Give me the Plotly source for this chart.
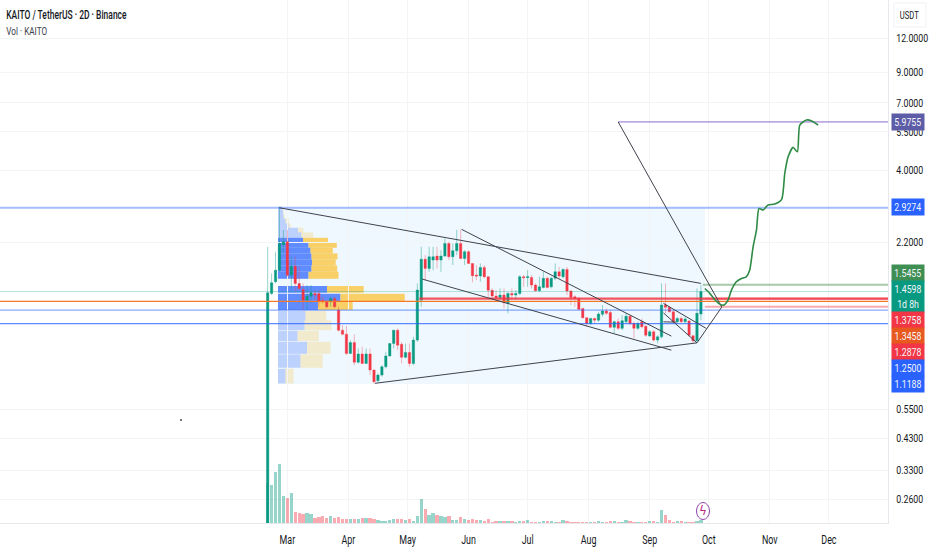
import pandas as pd
import plotly.graph_objects as go

# ---- data ----
START = "2025-02-19"
opens = [0.19,1.437,1.583,1.744,2.15,2.208,1.673,1.80,1.561,1.485,1.359,1.405,1.437,1.437,1.359,1.341,1.341,1.378,1.251,1.059,1.024,0.873,0.955,0.811,0.869,0.803,0.869,0.76,0.695,0.729,0.781,0.855,0.948,1.059,0.942,0.845,0.88,0.803,0.975,1.359,1.91,1.769,1.896,1.96,1.896,1.96,2.177,1.949,2.05,
2.178,1.922,2.032,1.844,1.674,1.66,1.784,1.651,1.477,1.407,1.387,1.417,1.322,1.437,1.417,1.437,1.651,1.638,1.642,1.54,1.47,1.511,1.629,1.519,1.629,1.721,1.651,1.755,1.466,1.398,1.379,1.269,1.175,1.12,1.167,1.151,1.208,1.241,1.226,1.084,1.136,1.075,1.136,1.189,1.12,1.075,1.136,1.095,1.009,1.045,0.975,1.002,1.305,1.28,1.234,1.136,1.167,1.136,1.143,1.011,0.97,1.211]
highs = [2.118,1.697,2.031,2.953,2.433,2.433,1.949,1.949,1.793,1.561,1.54,1.54,1.478,1.478,1.398,1.359,1.398,1.398,1.286,1.104,1.097,0.975,1.024,0.91,0.922,0.91,0.91,0.764,0.739,0.792,0.885,0.95,1.062,1.074,0.961,0.948,0.948,1.002,1.561,2.118,1.976,2.118,2.118,2.118,2.06,2.27,2.208,2.177,2.433,
2.446,2.06,2.06,1.85,1.819,1.844,1.819,1.66,1.498,1.477,1.498,1.498,1.457,1.498,1.477,1.674,1.674,1.745,1.674,1.562,1.651,1.721,1.651,1.651,1.844,1.79,1.77,1.79,1.477,1.417,1.398,1.27,1.178,1.175,1.175,1.234,1.305,1.269,1.252,1.146,1.167,1.201,1.218,1.201,1.136,1.136,1.167,1.104,1.06,1.06,1.016,1.562,1.562,1.295,1.252,1.184,1.184,1.184,1.151,1.016,1.498,1.54]
lows = [0.19,1.417,1.561,1.72,2.004,1.65,1.478,1.457,1.478,1.251,1.251,1.322,1.359,1.286,1.322,1.268,1.286,1.268,1.045,1.016,0.861,0.869,0.792,0.803,0.80,0.80,0.729,0.68,0.69,0.719,0.77,0.849,0.91,0.897,0.803,0.837,0.781,0.792,0.961,1.286,1.605,1.72,1.744,1.769,1.72,1.949,1.896,1.82,1.976,
1.91,1.819,1.835,1.575,1.606,1.583,1.629,1.398,1.379,1.36,1.341,1.269,1.218,1.36,1.36,1.417,1.519,1.519,1.498,1.457,1.457,1.498,1.498,1.498,1.606,1.629,1.629,1.417,1.305,1.287,1.252,1.167,1.089,1.104,1.12,1.136,1.184,1.201,1.075,1.031,1.06,1.06,1.12,1.104,0.989,1.06,1.075,1.002,1.002,0.962,0.948,0.989,1.218,1.226,1.12,1.12,1.126,1.12,1.002,0.948,0.962,1.151]
closes = [1.445,1.57,1.744,2.177,2.208,1.673,1.80,1.561,1.498,1.359,1.405,1.445,1.417,1.341,1.341,1.286,1.378,1.286,1.059,1.024,0.873,0.955,0.811,0.869,0.803,0.869,0.76,0.69,0.729,0.781,0.855,0.948,1.059,0.935,0.845,0.88,0.803,0.975,1.478,1.91,1.769,1.949,1.949,1.896,1.96,2.177,1.949,2.05,2.177,
1.922,2.032,1.844,1.665,1.66,1.784,1.651,1.477,1.407,1.387,1.417,1.33,1.437,1.417,1.437,1.651,1.638,1.651,1.54,1.47,1.519,1.629,1.511,1.629,1.721,1.66,1.755,1.466,1.39,1.379,1.259,1.175,1.12,1.167,1.151,1.211,1.241,1.218,1.084,1.136,1.075,1.146,1.189,1.12,1.075,1.12,1.089,1.016,1.045,0.975,1.002,1.305,1.28,1.234,1.136,1.167,1.136,1.161,1.016,0.97,1.218,1.4598]
volumes = [40,38,51,59,27,25,30,11.5,10,9.5,10.5,9,5,6,7,5,7,5,6,4,4.5,4,4,4,5,5.5,5,4.5,3,2,2.5,3,4,4,4,3,4,2,7,24,14,8.5,10,8.5,7,6.5,7,3,3.5,
6,4,3,4,3.5,3,2.5,4,1.5,2.5,2,2,2,2,1.5,2,2,3.5,0.8,0.8,1,2,2,2.5,1.5,1.5,3,2,1.5,1.2,1,1,1,1,0.6,2,1.5,1.5,2,1.8,1,0.8,3,2,1.5,1,1,0.8,2,2,1.5,13,8.5,3,1.5,2,2,1.5,1.5,1.5,2,3]

# volume profile rows
profile_low  = [2.872,2.779,2.680,2.571,2.480,2.386,2.282,2.196,2.100,2.004,1.906,1.813,1.720,1.623,1.445,1.348,1.251,1.148,1.059,0.967,0.870,0.775,0.680]
profile_high = [2.953,2.872,2.779,2.680,2.571,2.480,2.386,2.282,2.196,2.100,2.004,1.906,1.813,1.720,1.527,1.433,1.341,1.243,1.148,1.053,0.961,0.866,0.768]
profile_buy  = [4,5,5.5,7.5,10.5,20,23.5,25,30.5,32.5,33.5,34,33.5,30.5,49,62.5,40,27.5,26.5,19.5,29,22.5,7.5]
profile_sell = [1,0.7,1,3.3,2.3,5.3,11.7,25,28.3,22.3,26,23.7,25.7,30,36.7,64.3,34.7,20.7,27,21.3,23.7,22.3,8]
profile_dark = [0,0,0,0,0,0,0,1,1,1,1,1,1,1,1,1,1,0,0,0,0,0,0]
profile_start = "2025-02-24 06:00"
range_box_x = ["2025-02-24 06:00", "2025-09-29"]
range_box_y = [0.677, 2.9274]

level_price = [5.9755,2.9274,1.5455,1.4598,1.3758,1.3758,1.3458,1.2878,1.25,1.1188]
level_from  = ["2025-08-16","2024-10-01","2025-09-28","2024-10-01","2025-05-07","2025-09-29","2024-10-01","2025-09-29","2024-10-01","2024-10-01"]
level_color = ["rgba(103,58,183,0.75)","rgba(41,98,255,0.42)","rgba(46,125,50,0.42)","rgba(8,153,129,0.28)","rgba(242,54,69,0.85)","rgba(242,54,69,0.42)","rgba(245,120,40,1)","rgba(242,54,69,0.42)","rgba(41,98,255,0.55)","rgba(41,98,255,0.75)"]
level_width = [1,2,2,1,2.2,2,1.3,2,1.2,1.2]

trend_x = [["2025-02-25","2025-09-27"],["2025-05-28 12:00","2025-09-12"],["2025-05-08 12:00","2025-09-12"],
           ["2025-04-14 12:00","2025-09-25"],["2025-08-16","2025-10-07 14:00","2025-09-25"],
           ["2025-09-08","2025-09-29 18:00"],["2025-09-08","2025-09-25"],["2025-09-08","2025-09-14 14:00"]]
trend_y = [[2.9274,1.562],[2.447,1.008],[1.619,0.897],[0.681,0.953],[5.9755,1.283,0.953],[1.323,1.074],[1.222,0.953],[1.135,1.132]]

proj_x = ["2025-09-29","2025-10-01 12:00","2025-10-04","2025-10-06 14:00","2025-10-08 14:00","2025-10-10 18:00","2025-10-12 12:00","2025-10-15","2025-10-17 14:00","2025-10-20","2025-10-21 18:00","2025-10-23 12:00","2025-10-25 05:00","2025-10-26 12:00","2025-10-28 14:00","2025-10-31","2025-11-03 12:00","2025-11-07","2025-11-08 14:00","2025-11-10 07:00","2025-11-12 18:00","2025-11-15","2025-11-16 05:00","2025-11-19 14:00","2025-11-22","2025-11-25 12:00"]
proj_y = [1.497,1.438,1.367,1.315,1.304,1.359,1.477,1.583,1.627,1.650,1.744,2.117,2.432,2.912,2.873,2.994,3.019,3.139,3.896,4.473,4.836,4.663,5.824,6.07,6.04,5.824]

price_ticks = [12,9,7,5.5,4,2.2,0.55,0.43,0.33,0.26]
price_tick_text = ["12.0000","9.0000","7.0000","5.5000","4.0000","2.2000","0.5500","0.4300","0.3300","0.2600"]
month_ticks = ["2025-03-01","2025-04-01","2025-05-01","2025-06-01","2025-07-01","2025-08-01","2025-09-01","2025-10-01","2025-11-01","2025-12-01"]
month_text = ["Mar","Apr","May","Jun","Jul","Aug","Sep","Oct","Nov","Dec"]

badge_text = ["5.9755","2.9274","1.5455","1.4598<br>1d 8h","1.3758","1.3458","1.2878","1.2500","1.1188"]
badge_y = [122,207,273,296.5,320,336,352,368,384]
badge_h = [16,16,16,31,16,16,16,16,16]
badge_bg = ["#5d5ca6","#2962ff","#3f8f55","#089981","#f23645","#e8591f","#f23645","#2962ff","#2962ff"]

# ---- build ----
GREEN, RED = "#089981", "#f23645"
W, H, R, B = 932, 550, 44, 27
PW, PH = W - R, H - B
DAY = 86400000
dates = pd.date_range(START, periods=len(closes), freq="2D")
up = [c >= o for o, c in zip(opens, closes)]
PX_PER_DAY = 1.97
yr = [-0.671, 1.2164]

fig = go.Figure()
fig.add_trace(go.Bar(x=dates, y=volumes, width=2*DAY*0.84, yaxis="y", hoverinfo="skip",
    marker=dict(color=["rgba(8,153,129,0.42)" if u else "rgba(242,54,69,0.42)" for u in up], line_width=0)))
fig.add_trace(go.Candlestick(x=dates, open=opens, high=highs, low=lows, close=closes, yaxis="y2", whiskerwidth=0,
    increasing=dict(line=dict(color="rgba(8,153,129,0.42)", width=1), fillcolor="rgba(0,0,0,0)"),
    decreasing=dict(line=dict(color="rgba(242,54,69,0.36)", width=1), fillcolor="rgba(0,0,0,0)"), hoverinfo="skip"))
fig.add_trace(go.Candlestick(x=dates, open=opens, close=closes,
    high=[max(o, c) for o, c in zip(opens, closes)], low=[min(o, c) for o, c in zip(opens, closes)],
    yaxis="y2", whiskerwidth=0,
    increasing=dict(line=dict(color=GREEN, width=0), fillcolor=GREEN),
    decreasing=dict(line=dict(color=RED, width=0), fillcolor=RED)))
for p, f, c, w in zip(level_price, level_from, level_color, level_width):
    fig.add_trace(go.Scatter(x=[f, "2025-12-31"], y=[p, p], yaxis="y2", mode="lines", line=dict(color=c, width=w), hoverinfo="skip"))
for tx, ty in zip(trend_x, trend_y):
    fig.add_trace(go.Scatter(x=tx, y=ty, yaxis="y2", mode="lines", line=dict(color="#3f424d", width=1), hoverinfo="skip"))
fig.add_trace(go.Scatter(x=proj_x, y=proj_y, yaxis="y2", mode="lines", line=dict(color="#2e8b45", width=1.6, shape="spline", smoothing=0.6), hoverinfo="skip"))
fig.add_trace(go.Scatter(x=["2025-01-06"], y=[0.502], yaxis="y2", mode="markers", marker=dict(size=2, color="#444"), hoverinfo="skip"))

shapes = [dict(type="rect", xref="x", yref="y2", layer="below", x0=range_box_x[0], x1=range_box_x[1],
               y0=range_box_y[0], y1=range_box_y[1], fillcolor="rgba(33,150,243,0.07)", line_width=0)]
t0 = pd.Timestamp(profile_start)
for lo, hi, b, s, d in zip(profile_low, profile_high, profile_buy, profile_sell, profile_dark):
    x1 = t0 + pd.Timedelta(days=b / PX_PER_DAY)
    x2 = t0 + pd.Timedelta(days=(b + s) / PX_PER_DAY)
    shapes.append(dict(type="rect", xref="x", yref="y2", layer="below", x0=t0, x1=x1, y0=lo, y1=hi, line_width=0,
                       fillcolor="rgba(41,98,255,0.72)" if d else "rgba(41,98,255,0.26)"))
    shapes.append(dict(type="rect", xref="x", yref="y2", layer="below", x0=x1, x1=x2, y0=lo, y1=hi, line_width=0,
                       fillcolor="rgba(251,192,45,0.72)" if d else "rgba(251,192,45,0.24)"))
shapes.append(dict(type="circle", xref="paper", yref="paper", x0=696.5/PW, x1=709.5/PW, y0=1-519.5/PH, y1=1-502.5/PH,
                   line=dict(color="#8e44ad", width=1), fillcolor="rgba(255,255,255,0.7)"))
shapes.append(dict(type="rect", xref="paper", yref="paper", x0=894/PW, x1=926/PW, y0=1-27/PH, y1=1-3/PH,
                   line=dict(color="#f0f1f4", width=1)))

FONT = "Roboto, Arial, sans-serif"
ann = [dict(xref="paper", yref="paper", x=66/PW, y=1-15/PH, xanchor="center", yanchor="middle", showarrow=False,
            text="KAITO / TetherUS · 2D · Binance", font=dict(family=FONT, size=12, color="#131722", weight=500)),
       dict(xref="paper", yref="paper", x=26.5/PW, y=1-31/PH, xanchor="center", yanchor="middle", showarrow=False,
            text="Vol · KAITO", font=dict(family=FONT, size=11.5, color="#3a3e4a")),
       dict(xref="paper", yref="paper", x=909/PW, y=1-15/PH, xanchor="center", yanchor="middle", showarrow=False,
            text="USDT", font=dict(family=FONT, size=11.5, color="#131722")),
       dict(xref="paper", yref="paper", x=703/PW, y=1-511/PH, xanchor="center", yanchor="middle", showarrow=False,
            text="ϟ", font=dict(family="DejaVu Sans", size=12, color="#c2278a"))]
for t, y, h, bg in zip(badge_text, badge_y, badge_h, badge_bg):
    ann.append(dict(xref="paper", yref="paper", x=907.5/PW, y=1-y/PH, xanchor="center", yanchor="middle", showarrow=False,
                    text=t, width=32, height=h, bgcolor=bg, borderpad=0, align="center", font=dict(family=FONT, size=11.5, color="#f4f6fb")))

fig.update_layout(
    width=W, height=H, margin=dict(l=0, r=R, t=0, b=B, autoexpand=False), showlegend=False, paper_bgcolor="white", plot_bgcolor="white",
    bargap=0, boxgap=0.14, shapes=shapes, annotations=ann,
    xaxis=dict(type="date", range=["2024-10-06 02:00", "2025-12-31"], tickvals=month_ticks, ticktext=month_text,
               showgrid=True, gridcolor="#f3f4f6", gridwidth=1, rangeslider_visible=False, ticks="outside", ticklen=6, tickcolor="rgba(0,0,0,0)",
               tickfont=dict(family=FONT, size=12, color="#131722"), showline=True, linecolor="#e6e8ee", zeroline=False),
    yaxis=dict(range=[0, PH], visible=False, fixedrange=True, showgrid=False),
    yaxis2=dict(type="log", overlaying="y", side="right", range=yr, tickvals=price_ticks, ticktext=price_tick_text,
                showgrid=True, gridcolor="#f3f4f6", gridwidth=1, ticks="outside", ticklen=5, tickcolor="rgba(0,0,0,0)",
                tickfont=dict(family=FONT, size=11, color="#131722"), showline=True, linecolor="#e6e8ee", zeroline=False),
)
# the reference's lettering is condensed; no condensed face is installed, so narrow the real text
squeeze_js = """
document.body.style.margin='0';document.body.style.overflow='hidden';
function sq(el,k){var ts=el.querySelectorAll('tspan.line');if(!ts.length)ts=[el];
 ts.forEach(function(t){var w=t.getComputedTextLength();t.setAttribute('textLength',w*k);t.setAttribute('lengthAdjust','spacingAndGlyphs');});}
document.querySelectorAll('.xtick text').forEach(function(e){sq(e,0.74);});
document.querySelectorAll('.y2tick text').forEach(function(e){sq(e,0.8);});
document.querySelectorAll('.annotation-text').forEach(function(e){var s=e.textContent;
 if(s.indexOf('KAITO /')===0)sq(e,0.705);else if(s.indexOf('Vol')===0)sq(e,0.71);else if(s==='USDT')sq(e,0.66);else if(s.length>2)sq(e,0.76);});
"""
fig.write_html("out.html", config={"displayModeBar": False}, post_script=squeeze_js)
